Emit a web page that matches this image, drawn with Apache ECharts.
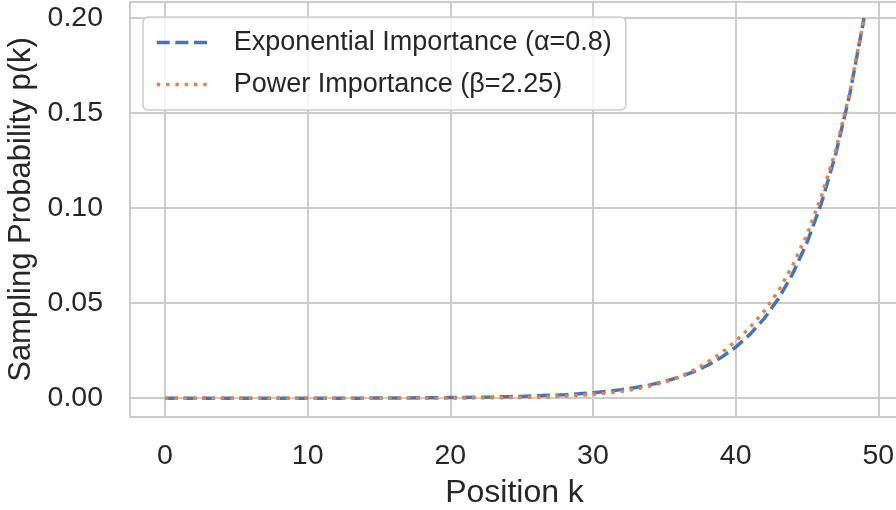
<!DOCTYPE html>
<html>
<head>
<meta charset="utf-8">
<script src="https://cdn.jsdelivr.net/npm/echarts@6/dist/echarts.min.js"></script>
<style>
  html, body { margin: 0; padding: 0; background: #fff; }
  #chart { width: 896px; height: 510px; }
</style>
</head>
<body>
<div id="chart"></div>
<script>
// positions k = 0..49
const positions = Array.from({ length: 50 }, (_, i) => i);

// values
const expImportance = [
  0, 0, 0, 0, 0, 0, 0, 0, 0, 0,
  0, 0, 0, 0, 0, 0.0001, 0.0001, 0.0001, 0.0002, 0.0002,
  0.0003, 0.0004, 0.0005, 0.0006, 0.0008, 0.0009, 0.0012, 0.0015, 0.0018, 0.0023,
  0.0029, 0.0036, 0.0045, 0.0056, 0.0070, 0.0088, 0.0110, 0.0137, 0.0172, 0.0215,
  0.0268, 0.0336, 0.0419, 0.0524, 0.0655, 0.0819, 0.1024, 0.1280, 0.1600, 0.2000
];
const powImportance = [
  0, 0, 0, 0, 0, 0, 0, 0, 0, 0,
  0, 0, 0, 0, 0, 0, 0, 0, 0, 0,
  0.0001, 0.0001, 0.0002, 0.0002, 0.0003, 0.0004, 0.0006, 0.0008, 0.0011, 0.0015,
  0.0020, 0.0027, 0.0036, 0.0048, 0.0064, 0.0084, 0.0110, 0.0145, 0.0188, 0.0238,
  0.0300, 0.0372, 0.0458, 0.0565, 0.0700, 0.0860, 0.1060, 0.1300, 0.1610, 0.2000
];

const xTicks = [0, 10, 20, 30, 40, 50];
const yTicks = [0, 0.05, 0.10, 0.15, 0.20];

const font = "'Liberation Sans', Arial, sans-serif";
const grey = "#cccccc";

const chart = echarts.init(document.getElementById("chart"), null, { renderer: "canvas" });

chart.setOption({
  backgroundColor: "#fff",
  animation: false,
  grid: {
    left: 130, right: -3, top: 2, bottom: 93,
    outerBoundsMode: "none",
    containLabel: false,
    show: true, borderColor: grey, borderWidth: 2, backgroundColor: "#fff"
  },
  legend: {
    orient: "vertical",
    left: 143, top: 17,
    padding: [12, 14, 12, 12],
    itemWidth: 52, itemHeight: 14, itemGap: 15,
    backgroundColor: "rgba(255,255,255,0.8)",
    borderColor: grey, borderWidth: 1.5, borderRadius: 5,
    itemStyle: { color: "rgba(0,0,0,0)", borderWidth: 0 },
    lineStyle: { width: 3.5, opacity: 1 },
    textStyle: { fontFamily: font, fontSize: 27, color: "#262626", padding: [0, 0, 0, 20] },
    data: ["Exponential Importance (α=0.8)", "Power Importance (β=2.25)"]
  },
  xAxis: {
    type: "value",
    min: -2.45, max: 51.45,
    name: "Position k",
    nameLocation: "middle", nameGap: 60,
    nameTextStyle: { fontFamily: font, fontSize: 32, color: "#262626" },
    axisLine: { show: false },
    axisTick: { show: false, customValues: xTicks },
    axisLabel: {
      customValues: xTicks, margin: 25,
      fontFamily: font, fontSize: 28.5, color: "#262626"
    },
    splitLine: { show: true, lineStyle: { color: grey, width: 2 } }
  },
  yAxis: {
    type: "value",
    min: -0.0099, max: 0.2085,
    name: "Sampling Probability p(k)",
    nameLocation: "middle", nameGap: 90,
    nameTextStyle: { fontFamily: font, fontSize: 31, color: "#262626" },
    axisLine: { show: false },
    axisTick: { show: false, customValues: yTicks },
    axisLabel: {
      customValues: yTicks, margin: 27,
      fontFamily: font, fontSize: 28.5, color: "#262626",
      formatter: v => v.toFixed(2)
    },
    splitLine: { show: true, lineStyle: { color: grey, width: 2 } }
  },
  series: [
    {
      name: "Exponential Importance (α=0.8)",
      type: "line",
      data: positions.map((k, i) => [k, expImportance[i]]),
      symbol: "none",
      lineStyle: { color: "#4C72B0", width: 3.5, type: [13, 5.6], cap: "butt" },
      itemStyle: { color: "#4C72B0" }
    },
    {
      name: "Power Importance (β=2.25)",
      type: "line",
      data: positions.map((k, i) => [k, powImportance[i]]),
      symbol: "none",
      lineStyle: { color: "#DD8452", width: 3.5, type: [3.5, 5.8], cap: "butt" },
      itemStyle: { color: "#DD8452" }
    }
  ]
});
</script>
</body>
</html>
